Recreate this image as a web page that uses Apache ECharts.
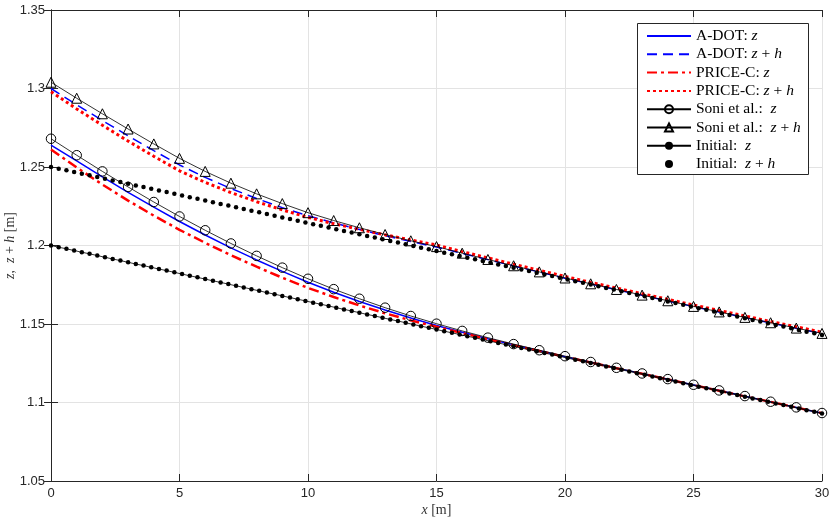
<!DOCTYPE html>
<html>
<head>
<meta charset="utf-8">
<script src="https://cdn.jsdelivr.net/npm/echarts@6/dist/echarts.min.js"></script>
<style>html,body{margin:0;padding:0;background:#fff}#c{width:830px;height:522px}</style>
</head>
<body>
<div id="c"></div>
<script>
// Station positions (m) for the Soni et al. / model outputs
const xs = [0,1,2,3,4,5,6,7,8,9,10,11,12,13,14,15,16,17,18,19,20,21,22,23,24,25,26,27,28,29,30];
const adotZ = [1.2640,1.2539,1.2437,1.2339,1.2244,1.2153,1.2067,1.1985,1.1908,1.1835,1.1766,1.1702,1.1643,1.1589,1.1538,1.1491,1.1447,1.1406,1.1367,1.1329,1.1292,1.1256,1.1219,1.1184,1.1148,1.1112,1.1076,1.1040,1.1004,1.0968,1.0932];
const adotZH = [1.3000,1.2896,1.2796,1.2699,1.2604,1.2513,1.2434,1.2363,1.2299,1.2241,1.2189,1.2144,1.2102,1.2062,1.2025,1.1990,1.1950,1.1910,1.1870,1.1831,1.1792,1.1755,1.1719,1.1683,1.1647,1.1611,1.1576,1.1541,1.1507,1.1473,1.1439];
const priceZ = [1.2611,1.2497,1.2388,1.2286,1.2190,1.2100,1.2017,1.1938,1.1865,1.1795,1.1730,1.1672,1.1618,1.1568,1.1523,1.1482,1.1442,1.1403,1.1365,1.1328,1.1291,1.1255,1.1218,1.1183,1.1147,1.1111,1.1075,1.1039,1.1004,1.0968,1.0932];
const priceZH = [1.2980,1.2870,1.2766,1.2665,1.2568,1.2476,1.2402,1.2337,1.2279,1.2227,1.2179,1.2139,1.2103,1.2068,1.2035,1.2003,1.1961,1.1921,1.1881,1.1842,1.1803,1.1765,1.1729,1.1693,1.1657,1.1621,1.1586,1.1551,1.1516,1.1482,1.1448];
const soniZ = [1.2680,1.2575,1.2472,1.2373,1.2277,1.2185,1.2097,1.2013,1.1934,1.1859,1.1788,1.1722,1.1661,1.1604,1.1551,1.1502,1.1456,1.1413,1.1372,1.1333,1.1295,1.1258,1.1221,1.1185,1.1149,1.1113,1.1077,1.1041,1.1005,1.0969,1.0933];
const soniZH = [1.3040,1.2938,1.2839,1.2742,1.2647,1.2555,1.2472,1.2397,1.2329,1.2267,1.2209,1.2159,1.2113,1.2070,1.2030,1.1993,1.1951,1.1911,1.1871,1.1832,1.1793,1.1756,1.1720,1.1684,1.1648,1.1612,1.1577,1.1542,1.1508,1.1474,1.1440];

// Initial condition (dense grid)
const initX = [0,0.3,0.6,0.9,1.2,1.5,1.8,2.1,2.4,2.7,3,3.3,3.6,3.9,4.2,4.5,4.8,5.1,5.4,5.7,6,6.3,6.6,6.9,7.2,7.5,7.8,8.1,8.4,8.7,9,9.3,9.6,9.9,10.2,10.5,10.8,11.1,11.4,11.7,12,12.3,12.6,12.9,13.2,13.5,13.8,14.1,14.4,14.7,15,15.3,15.6,15.9,16.2,16.5,16.8,17.1,17.4,17.7,18,18.3,18.6,18.9,19.2,19.5,19.8,20.1,20.4,20.7,21,21.3,21.6,21.9,22.2,22.5,22.8,23.1,23.4,23.7,24,24.3,24.6,24.9,25.2,25.5,25.8,26.1,26.4,26.7,27,27.3,27.6,27.9,28.2,28.5,28.8,29.1,29.4,29.7,30];
const initZ = [1.2000,1.1989,1.1979,1.1968,1.1957,1.1947,1.1936,1.1925,1.1914,1.1904,1.1893,1.1882,1.1872,1.1861,1.1850,1.1840,1.1829,1.1818,1.1807,1.1797,1.1786,1.1775,1.1765,1.1754,1.1743,1.1733,1.1722,1.1711,1.1700,1.1690,1.1679,1.1668,1.1658,1.1647,1.1636,1.1626,1.1615,1.1604,1.1593,1.1583,1.1572,1.1561,1.1551,1.1540,1.1529,1.1519,1.1508,1.1497,1.1486,1.1476,1.1465,1.1454,1.1444,1.1433,1.1422,1.1412,1.1401,1.1390,1.1379,1.1369,1.1358,1.1347,1.1337,1.1326,1.1315,1.1305,1.1294,1.1283,1.1272,1.1262,1.1251,1.1240,1.1230,1.1219,1.1208,1.1198,1.1187,1.1176,1.1165,1.1155,1.1144,1.1133,1.1123,1.1112,1.1101,1.1091,1.1080,1.1069,1.1058,1.1048,1.1037,1.1026,1.1016,1.1005,1.0994,1.0984,1.0973,1.0962,1.0951,1.0941,1.0930];
const initZH = [1.2500,1.2489,1.2479,1.2468,1.2457,1.2447,1.2436,1.2425,1.2414,1.2404,1.2393,1.2382,1.2372,1.2361,1.2350,1.2340,1.2329,1.2318,1.2307,1.2297,1.2286,1.2275,1.2265,1.2254,1.2243,1.2233,1.2222,1.2211,1.2200,1.2190,1.2179,1.2168,1.2158,1.2147,1.2136,1.2126,1.2115,1.2104,1.2093,1.2083,1.2072,1.2061,1.2051,1.2040,1.2029,1.2019,1.2008,1.1997,1.1986,1.1976,1.1965,1.1954,1.1944,1.1933,1.1922,1.1912,1.1901,1.1890,1.1879,1.1869,1.1858,1.1847,1.1837,1.1826,1.1815,1.1805,1.1794,1.1783,1.1772,1.1762,1.1751,1.1740,1.1730,1.1719,1.1708,1.1698,1.1687,1.1676,1.1665,1.1655,1.1644,1.1633,1.1623,1.1612,1.1601,1.1591,1.1580,1.1569,1.1558,1.1548,1.1537,1.1526,1.1516,1.1505,1.1494,1.1484,1.1473,1.1462,1.1451,1.1441,1.1430];

const xTicks = [0,5,10,15,20,25,30];
const yTickLabels = ['1.05','1.1','1.15','1.2','1.25','1.3','1.35'];

const legendNames = ['A-DOT: z','A-DOT: z+h','PRICE-C: z','PRICE-C: z+h','Soni et al.: z','Soni et al.: z+h','Initial: z','Initial: z+h'];
const noMarker = ['A-DOT: z','A-DOT: z+h','PRICE-C: z','PRICE-C: z+h'];
const legendRich = {
  'A-DOT: z': '{r|A-DOT: }{i|z}',
  'A-DOT: z+h': '{r|A-DOT: }{i|z}{r| + }{i|h}',
  'PRICE-C: z': '{r|PRICE-C: }{i|z}',
  'PRICE-C: z+h': '{r|PRICE-C: }{i|z}{r| + }{i|h}',
  'Soni et al.: z': '{r|Soni et al.:  }{i|z}',
  'Soni et al.: z+h': '{r|Soni et al.:  }{i|z}{r| + }{i|h}',
  'Initial: z': '{r|Initial:  }{i|z}',
  'Initial: z+h': '{r|Initial:  }{i|z}{r| + }{i|h}'
};

function pairs(x, y) { return x.map((v, i) => [v, y[i]]); }

const SERIF = 'Liberation Serif';
const AX = '#262626';

const chart = echarts.init(document.getElementById('c'), null, {renderer: 'canvas'});
const axisCommon = {
  axisLine: {show: true, lineStyle: {color: AX, width: 1}},
  axisTick: {show: true, inside: true, length: 7, lineStyle: {color: AX, width: 1}},
};
chart.setOption({
  animation: false,
  backgroundColor: '#fff',
  grid: {left: 51, right: 8, top: 10, bottom: 41, containLabel: false, outerBoundsMode: 'none'},
  xAxis: [{
    type: 'value', min: 0, max: 30, interval: 5, position: 'bottom',
    ...axisCommon,
    axisLabel: {color: AX, fontFamily: 'Liberation Sans', fontSize: 13, margin: 6,
      formatter: v => xTicks.includes(v) ? String(v) : ''},
    splitLine: {show: true, lineStyle: {color: '#e3e3e3', width: 1}},
    name: '{i|x} {r|[m]}', nameLocation: 'middle', nameGap: 22, nameMoveOverlap: false,
    nameTextStyle: {rich: {
      i: {fontFamily: SERIF, fontStyle: 'italic', fontSize: 14, color: '#333'},
      r: {fontFamily: SERIF, fontSize: 14, color: '#333'}
    }}
  }, {
    type: 'value', min: 0, max: 30, interval: 5, position: 'top',
    ...axisCommon, axisLabel: {show: false}, splitLine: {show: false}
  }],
  yAxis: [{
    type: 'value', min: 1.05, max: 1.35, interval: 0.05,
    ...axisCommon,
    axisLabel: {color: AX, fontFamily: 'Liberation Sans', fontSize: 13, margin: 6,
      formatter: v => yTickLabels[Math.round((v - 1.05) / 0.05)] || ''},
    splitLine: {show: true, lineStyle: {color: '#e3e3e3', width: 1}},
    name: '{i|z}{r|,  }{i|z}{r| + }{i|h}{r| [m]}', nameLocation: 'middle', nameGap: 34, nameMoveOverlap: false,
    nameTextStyle: {rich: {
      i: {fontFamily: SERIF, fontStyle: 'italic', fontSize: 14, color: '#333'},
      r: {fontFamily: SERIF, fontSize: 14, color: '#333'}
    }}
  }, {
    type: 'value', min: 1.05, max: 1.35, interval: 0.05, position: 'right',
    ...axisCommon, axisLabel: {show: false}, splitLine: {show: false}
  }],
  graphic: [{
    type: 'rect', z: 3, silent: true,
    shape: {x: 637.5, y: 23.5, width: 171, height: 151},
    style: {fill: '#fff', stroke: AX, lineWidth: 1}
  }],
  legend: {
    data: legendNames.map(n => noMarker.includes(n) ? {name: n, itemStyle: {opacity: 0}} : {name: n}),
    orient: 'vertical', left: 646, top: 28, padding: 0,
    itemWidth: 44, itemHeight: 10, itemGap: 2.3, z: 5,
    formatter: n => legendRich[n],
    textStyle: {rich: {
      r: {fontFamily: SERIF, fontSize: 15.5, color: '#000', lineHeight: 14},
      i: {fontFamily: SERIF, fontStyle: 'italic', fontSize: 15.5, color: '#000', lineHeight: 14}
    }}
  },
  series: [
    {name: 'A-DOT: z', type: 'line', data: pairs(xs, adotZ), showSymbol: false, symbol: 'none',
      lineStyle: {color: '#0000ff', width: 1.5, type: 'solid'}, itemStyle: {color: '#0000ff'}},
    {name: 'A-DOT: z+h', type: 'line', data: pairs(xs, adotZH), showSymbol: false, symbol: 'none',
      lineStyle: {color: '#0000ff', width: 1.5, type: [10, 6]}, itemStyle: {color: '#0000ff'}},
    {name: 'PRICE-C: z', type: 'line', data: pairs(xs, priceZ), showSymbol: false, symbol: 'none',
      lineStyle: {color: '#ff0000', width: 2.5, type: [10, 4, 3, 4]}, itemStyle: {color: '#ff0000'}},
    {name: 'PRICE-C: z+h', type: 'line', data: pairs(xs, priceZH), showSymbol: false, symbol: 'none',
      lineStyle: {color: '#ff0000', width: 3, type: [3, 3]}, itemStyle: {color: '#ff0000'}},
    {name: 'Soni et al.: z', type: 'line', data: pairs(xs, soniZ), symbol: 'circle', symbolSize: 9.5,
      lineStyle: {color: '#000', width: 0.8},
      itemStyle: {color: 'rgba(0,0,0,0)', borderColor: '#000', borderWidth: 1}},
    {name: 'Soni et al.: z+h', type: 'line', data: pairs(xs, soniZH), symbol: 'triangle', symbolSize: 10,
      lineStyle: {color: '#000', width: 0.8},
      itemStyle: {color: 'rgba(0,0,0,0)', borderColor: '#000', borderWidth: 1}},
    {name: 'Initial: z', type: 'line', data: pairs(initX, initZ), symbol: 'circle', symbolSize: 4.5,
      lineStyle: {color: '#000', width: 0.8}, itemStyle: {color: '#000', borderWidth: 0}},
    {name: 'Initial: z+h', type: 'line', data: pairs(initX, initZH), symbol: 'circle', symbolSize: 4.5,
      lineStyle: {color: '#000', width: 1, opacity: 0}, itemStyle: {color: '#000', borderWidth: 0}}
  ]
});
</script>
</body>
</html>
